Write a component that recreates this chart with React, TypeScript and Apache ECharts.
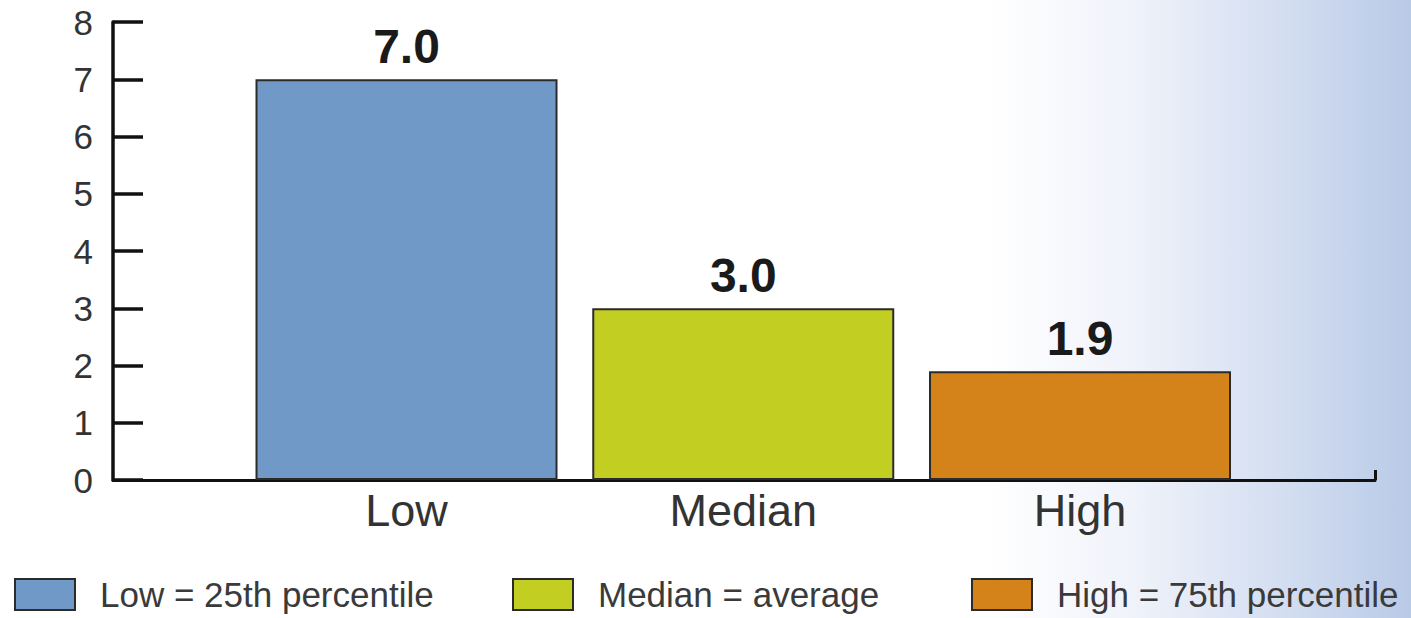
import React, { useEffect, useRef } from "react";
import * as echarts from "echarts";

const categories = ["Low", "Median", "High"];
const values = [7.0, 3.0, 1.9];
const legendNames = ["Low = 25th percentile", "Median = average", "High = 75th percentile"];
const barColors = ["#7199C7", "#C3CE23", "#D4831A"];
const yTicks = [0, 1, 2, 3, 4, 5, 6, 7, 8];
const legendLefts = [14, 512, 971];

const FONT = "'Liberation Sans', Arial, sans-serif";

export default function App() {
  const ref = useRef<HTMLDivElement>(null);

  useEffect(() => {
    if (!ref.current) return;
    const chart = echarts.init(ref.current, undefined, { renderer: "svg" });

    const series = categories.map((c, i) => ({
      name: legendNames[i],
      type: "bar",
      data: [[i, values[i]]],
      barWidth: 302,
      barGap: "-100%",
      itemStyle: {
        color: barColors[i],
        borderColor: "#2b2b2b",
        borderWidth: 2,
      },
      label: {
        show: true,
        position: "top",
        distance: 9,
        formatter: (p: any) => Number(p.value[1]).toFixed(1),
        fontFamily: FONT,
        fontWeight: "bold",
        fontSize: 48,
        color: "#1a1a1a",
      },
    }));

    const option: any = {
      animation: false,
      backgroundColor: {
        type: "linear",
        x: 0,
        y: 0,
        x2: 1,
        y2: 0,
        colorStops: [
          { offset: 0, color: "#ffffff" },
          { offset: 0.7, color: "#ffffff" },
          { offset: 0.8, color: "#f0f3fa" },
          { offset: 0.9, color: "#d6e0f2" },
          { offset: 1, color: "#b9cae7" },
        ],
      },
      grid: { left: 113, right: 36, top: 22, bottom: 138 },
      legend: legendNames.map((n, i) => ({
        data: [n],
        left: legendLefts[i],
        top: 577,
        padding: 0,
        itemWidth: 60,
        itemHeight: 31,
        icon: "rect",
        selectedMode: false,
        textStyle: {
          fontFamily: FONT,
          fontSize: 35,
          color: "#3a3a3a",
          padding: [0, 0, 0, 20],
        },
      })),
      xAxis: {
        type: "value",
        min: -0.8716,
        max: 2.876,
        splitLine: { show: false },
        axisLine: { show: true, onZero: false, lineStyle: { color: "#111", width: 3 } },
        axisTick: {
          show: true,
          inside: true,
          length: 10,
          customValues: [2.876],
          lineStyle: { color: "#111", width: 3 },
        },
        axisLabel: {
          customValues: [0, 1, 2],
          formatter: (v: number) => categories[Math.round(v)] ?? "",
          fontFamily: FONT,
          fontSize: 45,
          color: "#333",
          margin: 8,
        },
      },
      yAxis: {
        type: "value",
        min: 0,
        max: 8,
        interval: 1,
        splitLine: { show: false },
        axisLine: { show: true, onZero: false, lineStyle: { color: "#111", width: 3.5 } },
        axisTick: {
          show: true,
          inside: true,
          length: 30,
          lineStyle: { color: "#111", width: 3.5 },
        },
        axisLabel: {
          formatter: (v: number) => (yTicks.includes(v) ? String(v) : ""),
          fontFamily: FONT,
          fontSize: 35,
          color: "#333",
          margin: 20,
        },
      },
      series,
    };

    chart.setOption(option);
    return () => chart.dispose();
  }, []);

  return (
    <div
      ref={ref}
      style={{ position: "fixed", left: 0, top: 0, width: 1411, height: 618 }}
    />
  );
}
